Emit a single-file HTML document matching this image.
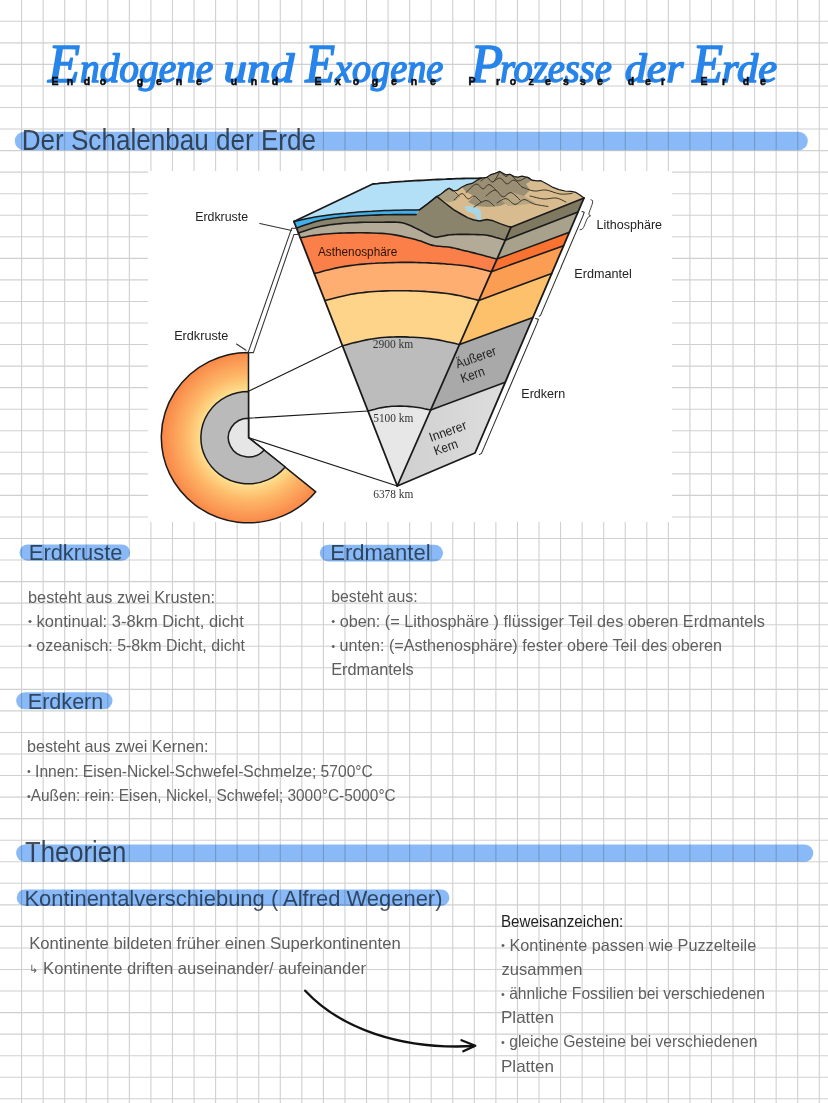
<!DOCTYPE html>
<html lang="de"><head><meta charset="utf-8"><title>Endogene und Exogene Prozesse der Erde</title>
<style>
html,body{margin:0;padding:0;background:#fff;}
body{width:828px;height:1103px;overflow:hidden;position:relative;font-family:"Liberation Sans",sans-serif;}
svg{position:absolute;left:0;top:0;display:block;}
text{font-family:"Liberation Sans",sans-serif;}
.grid line{stroke:#d0d0d0;stroke-width:1.1;}
.bar{fill:#89baf7;mix-blend-mode:multiply;}
.h1{font-size:29px;fill:#16202b;fill-opacity:.78;}
.h2{font-size:22.4px;fill:#16283a;fill-opacity:.8;}
.b{font-size:16.5px;fill:#5e5e5e;}
.b .bl,.bb .bl{font-size:11.5px;}
.bb{font-size:16.5px;fill:#1e1e1e;}
.lab{font-size:13.4px;fill:#222;}
.km{font-family:"Liberation Serif",serif;font-size:12px;fill:#333;}
.title{font-family:"Liberation Serif",serif;font-style:italic;font-weight:normal;fill:#2784ea;stroke:#2784ea;stroke-width:1.5;stroke-linejoin:round;}
.sub{font-family:"Liberation Sans",sans-serif;font-weight:bold;font-size:10.5px;fill:#0a0a0a;stroke:#0a0a0a;stroke-width:0.5;}
</style></head><body>
<svg width="828" height="1103" viewBox="0 0 828 1103">
<g class="grid">
<line x1="21.56" y1="0" x2="21.56" y2="1103"/>
<line x1="43.12" y1="0" x2="43.12" y2="1103"/>
<line x1="64.68" y1="0" x2="64.68" y2="1103"/>
<line x1="86.24" y1="0" x2="86.24" y2="1103"/>
<line x1="107.80" y1="0" x2="107.80" y2="1103"/>
<line x1="129.36" y1="0" x2="129.36" y2="1103"/>
<line x1="150.92" y1="0" x2="150.92" y2="1103"/>
<line x1="172.48" y1="0" x2="172.48" y2="1103"/>
<line x1="194.04" y1="0" x2="194.04" y2="1103"/>
<line x1="215.60" y1="0" x2="215.60" y2="1103"/>
<line x1="237.16" y1="0" x2="237.16" y2="1103"/>
<line x1="258.72" y1="0" x2="258.72" y2="1103"/>
<line x1="280.28" y1="0" x2="280.28" y2="1103"/>
<line x1="301.84" y1="0" x2="301.84" y2="1103"/>
<line x1="323.40" y1="0" x2="323.40" y2="1103"/>
<line x1="344.96" y1="0" x2="344.96" y2="1103"/>
<line x1="366.52" y1="0" x2="366.52" y2="1103"/>
<line x1="388.08" y1="0" x2="388.08" y2="1103"/>
<line x1="409.64" y1="0" x2="409.64" y2="1103"/>
<line x1="431.20" y1="0" x2="431.20" y2="1103"/>
<line x1="452.76" y1="0" x2="452.76" y2="1103"/>
<line x1="474.32" y1="0" x2="474.32" y2="1103"/>
<line x1="495.88" y1="0" x2="495.88" y2="1103"/>
<line x1="517.44" y1="0" x2="517.44" y2="1103"/>
<line x1="539.00" y1="0" x2="539.00" y2="1103"/>
<line x1="560.56" y1="0" x2="560.56" y2="1103"/>
<line x1="582.12" y1="0" x2="582.12" y2="1103"/>
<line x1="603.68" y1="0" x2="603.68" y2="1103"/>
<line x1="625.24" y1="0" x2="625.24" y2="1103"/>
<line x1="646.80" y1="0" x2="646.80" y2="1103"/>
<line x1="668.36" y1="0" x2="668.36" y2="1103"/>
<line x1="689.92" y1="0" x2="689.92" y2="1103"/>
<line x1="711.48" y1="0" x2="711.48" y2="1103"/>
<line x1="733.04" y1="0" x2="733.04" y2="1103"/>
<line x1="754.60" y1="0" x2="754.60" y2="1103"/>
<line x1="776.16" y1="0" x2="776.16" y2="1103"/>
<line x1="797.72" y1="0" x2="797.72" y2="1103"/>
<line x1="819.28" y1="0" x2="819.28" y2="1103"/>
<line x1="0" y1="21.30" x2="828" y2="21.30"/>
<line x1="0" y1="42.85" x2="828" y2="42.85"/>
<line x1="0" y1="64.40" x2="828" y2="64.40"/>
<line x1="0" y1="85.95" x2="828" y2="85.95"/>
<line x1="0" y1="107.50" x2="828" y2="107.50"/>
<line x1="0" y1="129.05" x2="828" y2="129.05"/>
<line x1="0" y1="150.60" x2="828" y2="150.60"/>
<line x1="0" y1="172.15" x2="828" y2="172.15"/>
<line x1="0" y1="193.70" x2="828" y2="193.70"/>
<line x1="0" y1="215.25" x2="828" y2="215.25"/>
<line x1="0" y1="236.80" x2="828" y2="236.80"/>
<line x1="0" y1="258.35" x2="828" y2="258.35"/>
<line x1="0" y1="279.90" x2="828" y2="279.90"/>
<line x1="0" y1="301.45" x2="828" y2="301.45"/>
<line x1="0" y1="323.00" x2="828" y2="323.00"/>
<line x1="0" y1="344.55" x2="828" y2="344.55"/>
<line x1="0" y1="366.10" x2="828" y2="366.10"/>
<line x1="0" y1="387.65" x2="828" y2="387.65"/>
<line x1="0" y1="409.20" x2="828" y2="409.20"/>
<line x1="0" y1="430.75" x2="828" y2="430.75"/>
<line x1="0" y1="452.30" x2="828" y2="452.30"/>
<line x1="0" y1="473.85" x2="828" y2="473.85"/>
<line x1="0" y1="495.40" x2="828" y2="495.40"/>
<line x1="0" y1="516.95" x2="828" y2="516.95"/>
<line x1="0" y1="538.50" x2="828" y2="538.50"/>
<line x1="0" y1="560.05" x2="828" y2="560.05"/>
<line x1="0" y1="581.60" x2="828" y2="581.60"/>
<line x1="0" y1="603.15" x2="828" y2="603.15"/>
<line x1="0" y1="624.70" x2="828" y2="624.70"/>
<line x1="0" y1="646.25" x2="828" y2="646.25"/>
<line x1="0" y1="667.80" x2="828" y2="667.80"/>
<line x1="0" y1="689.35" x2="828" y2="689.35"/>
<line x1="0" y1="710.90" x2="828" y2="710.90"/>
<line x1="0" y1="732.45" x2="828" y2="732.45"/>
<line x1="0" y1="754.00" x2="828" y2="754.00"/>
<line x1="0" y1="775.55" x2="828" y2="775.55"/>
<line x1="0" y1="797.10" x2="828" y2="797.10"/>
<line x1="0" y1="818.65" x2="828" y2="818.65"/>
<line x1="0" y1="840.20" x2="828" y2="840.20"/>
<line x1="0" y1="861.75" x2="828" y2="861.75"/>
<line x1="0" y1="883.30" x2="828" y2="883.30"/>
<line x1="0" y1="904.85" x2="828" y2="904.85"/>
<line x1="0" y1="926.40" x2="828" y2="926.40"/>
<line x1="0" y1="947.95" x2="828" y2="947.95"/>
<line x1="0" y1="969.50" x2="828" y2="969.50"/>
<line x1="0" y1="991.05" x2="828" y2="991.05"/>
<line x1="0" y1="1012.60" x2="828" y2="1012.60"/>
<line x1="0" y1="1034.15" x2="828" y2="1034.15"/>
<line x1="0" y1="1055.70" x2="828" y2="1055.70"/>
<line x1="0" y1="1077.25" x2="828" y2="1077.25"/>
<line x1="0" y1="1098.80" x2="828" y2="1098.80"/>
</g>
<rect class="bar" x="14.8" y="131.7" width="793.0" height="18.6" rx="9.30"/>
<rect class="bar" x="19.5" y="544.5" width="110.5" height="16.2" rx="8.10"/>
<rect class="bar" x="319.8" y="544.7" width="123.2" height="16.8" rx="8.40"/>
<rect class="bar" x="16.2" y="692.2" width="96.3" height="17.1" rx="8.55"/>
<rect class="bar" x="16.1" y="844.4" width="797.2" height="17.3" rx="8.65"/>
<rect class="bar" x="16.7" y="889.4" width="432.7" height="16.6" rx="8.30"/>
<text class="h1" x="21.7" y="149.6" textLength="294.3" lengthAdjust="spacingAndGlyphs">Der Schalenbau der Erde</text>
<text class="h2" x="28.8" y="559.6" textLength="93.7" lengthAdjust="spacingAndGlyphs">Erdkruste</text>
<text class="h2" x="330.2" y="560.0" textLength="100.4" lengthAdjust="spacingAndGlyphs">Erdmantel</text>
<text class="h2" x="27.8" y="708.6" textLength="75.5" lengthAdjust="spacingAndGlyphs">Erdkern</text>
<text class="h1" x="25" y="861.5" textLength="101.4" lengthAdjust="spacingAndGlyphs">Theorien</text>
<text class="h2" x="24.4" y="905.8" textLength="418.1" lengthAdjust="spacingAndGlyphs">Kontinentalverschiebung ( Alfred Wegener)</text>
<text class="b" x="28" y="602.5" textLength="187.0" lengthAdjust="spacingAndGlyphs">besteht aus zwei Krusten:</text>
<text class="b" x="28" y="626.5" textLength="215.8" lengthAdjust="spacingAndGlyphs"><tspan class="bl" dy="-1.2">•</tspan><tspan dy="1.2"> kontinual: 3-8km Dicht, dicht</tspan></text>
<text class="b" x="28" y="650.5" textLength="217.0" lengthAdjust="spacingAndGlyphs"><tspan class="bl" dy="-1.2">•</tspan><tspan dy="1.2"> ozeanisch: 5-8km Dicht, dicht</tspan></text>
<text class="b" x="331.2" y="602.4" textLength="86.4" lengthAdjust="spacingAndGlyphs">besteht aus:</text>
<text class="b" x="331.2" y="626.6" textLength="433.8" lengthAdjust="spacingAndGlyphs"><tspan class="bl" dy="-1.2">•</tspan><tspan dy="1.2"> oben: (= Lithosphäre ) flüssiger Teil des oberen Erdmantels</tspan></text>
<text class="b" x="331.2" y="650.7" textLength="390.8" lengthAdjust="spacingAndGlyphs"><tspan class="bl" dy="-1.2">•</tspan><tspan dy="1.2"> unten: (=Asthenosphäre) fester obere Teil des oberen</tspan></text>
<text class="b" x="331.2" y="675.0" textLength="82.5" lengthAdjust="spacingAndGlyphs">Erdmantels</text>
<text class="b" x="26.9" y="752.2" textLength="181.6" lengthAdjust="spacingAndGlyphs">besteht aus zwei Kernen:</text>
<text class="b" x="26.9" y="776.5" textLength="346.0" lengthAdjust="spacingAndGlyphs"><tspan class="bl" dy="-1.2">•</tspan><tspan dy="1.2"> Innen: Eisen-Nickel-Schwefel-Schmelze; 5700°C</tspan></text>
<text class="b" x="26.9" y="801.0" textLength="368.8" lengthAdjust="spacingAndGlyphs"><tspan class="bl" dy="-1.2">•</tspan><tspan dy="1.2">Außen: rein: Eisen, Nickel, Schwefel; 3000°C-5000°C</tspan></text>
<text class="b" x="29.2" y="949.0" textLength="371.6" lengthAdjust="spacingAndGlyphs">Kontinente bildeten früher einen Superkontinenten</text>
<text class="b" x="29.2" y="973.5" textLength="336.8" lengthAdjust="spacingAndGlyphs"><tspan style="font-size:11px;font-family:'DejaVu Sans',sans-serif" dy="-1">↳</tspan><tspan dy="1"> Kontinente driften auseinander/ aufeinander</tspan></text>
<text class="bb" x="501" y="927.0" textLength="122.3" lengthAdjust="spacingAndGlyphs">Beweisanzeichen:</text>
<text class="b" x="501" y="950.6" textLength="255.2" lengthAdjust="spacingAndGlyphs"><tspan class="bl" dy="-1.2">•</tspan><tspan dy="1.2"> Kontinente passen wie Puzzelteile</tspan></text>
<text class="b" x="501.6" y="974.6" textLength="80.9" lengthAdjust="spacingAndGlyphs">zusammen</text>
<text class="b" x="501" y="998.8" textLength="264.0" lengthAdjust="spacingAndGlyphs"><tspan class="bl" dy="-1.2">•</tspan><tspan dy="1.2"> ähnliche Fossilien bei verschiedenen</tspan></text>
<text class="b" x="501" y="1023.0" textLength="53.0" lengthAdjust="spacingAndGlyphs">Platten</text>
<text class="b" x="501" y="1047.3" textLength="256.4" lengthAdjust="spacingAndGlyphs"><tspan class="bl" dy="-1.2">•</tspan><tspan dy="1.2"> gleiche Gesteine bei verschiedenen</tspan></text>
<text class="b" x="501" y="1071.6" textLength="53.0" lengthAdjust="spacingAndGlyphs">Platten</text>
<path d="M305.2 990.7 C340 1028 400 1050 474 1046" fill="none" stroke="#111" stroke-width="2.3" stroke-linecap="round"/>
<path d="M461.5 1040.2 L475.3 1045.8 L463.3 1051.2" fill="none" stroke="#111" stroke-width="2.3" stroke-linecap="round" stroke-linejoin="round"/>
<g id="title">
<text class="title" font-size="55" x="48" y="82" textLength="32.0" lengthAdjust="spacingAndGlyphs">E</text>
<text class="title" font-size="40" x="80" y="82" textLength="133.3" lengthAdjust="spacingAndGlyphs">ndogene</text>
<text class="title" font-size="40" x="223.5" y="82" textLength="70.7" lengthAdjust="spacingAndGlyphs">und</text>
<text class="title" font-size="55" x="305.2" y="82" textLength="29.8" lengthAdjust="spacingAndGlyphs">E</text>
<text class="title" font-size="40" x="335" y="82" textLength="108.3" lengthAdjust="spacingAndGlyphs">xogene</text>
<text class="title" font-size="55" x="470.4" y="82" textLength="32.6" lengthAdjust="spacingAndGlyphs">P</text>
<text class="title" font-size="40" x="500" y="82" textLength="111.7" lengthAdjust="spacingAndGlyphs">rozesse</text>
<text class="title" font-size="40" x="624.8" y="82" textLength="58.7" lengthAdjust="spacingAndGlyphs">der</text>
<text class="title" font-size="55" x="692.2" y="82" textLength="30.8" lengthAdjust="spacingAndGlyphs">E</text>
<text class="title" font-size="40" x="722" y="82" textLength="55.0" lengthAdjust="spacingAndGlyphs">rde</text>
<text class="sub" x="55.0 70.0 87.0 103.0 140.0 159.0 179.0 199.0" y="85" text-anchor="middle">Endogene</text>
<text class="sub" x="234.0 254.0 275.0" y="85" text-anchor="middle">und</text>
<text class="sub" x="318.0 338.0 356.0 375.0 394.0 414.0 433.0" y="85" text-anchor="middle">Exogene</text>
<text class="sub" x="472.0 498.0 513.0 531.0 548.0 566.0 583.0 600.0" y="85" text-anchor="middle">Prozesse</text>
<text class="sub" x="631.0 648.0 663.0" y="85" text-anchor="middle">der</text>
<text class="sub" x="704.0 724.0 746.0 763.0" y="85" text-anchor="middle">Erde</text>
</g>
<g id="diagram">
<defs>
<radialGradient id="mantle" gradientUnits="userSpaceOnUse" cx="248.5" cy="437.6" r="86.5"><stop offset="0.54" stop-color="#fee08f"/><stop offset="0.72" stop-color="#fdb868"/><stop offset="1" stop-color="#f98647"/></radialGradient>
<linearGradient id="icore" x1="0" y1="0" x2="1" y2="0"><stop offset="0" stop-color="#cfcfcf"/><stop offset="1" stop-color="#dedede"/></linearGradient>
</defs>
<rect x="148" y="171" width="524" height="351" fill="#fff"/>
<polygon points="368.0,411.0 369.2,410.7 370.9,410.3 372.8,409.7 375.0,409.2 377.3,408.6 379.6,408.0 381.9,407.6 384.0,407.2 386.0,406.9 388.0,406.7 390.0,406.5 391.9,406.3 393.9,406.2 395.9,406.2 397.9,406.1 399.9,406.1 401.9,406.1 403.9,406.2 406.0,406.3 408.0,406.4 410.1,406.6 412.1,406.8 414.1,407.0 416.0,407.2 418.0,407.5 420.1,407.8 422.3,408.2 424.4,408.7 426.3,409.1 428.1,409.5 429.6,409.8 430.7,410.0 397.3,486.0 397.3,486.0 397.3,486.0" fill="#e7e7e7" stroke="none" stroke-width="0" stroke-linejoin="round"/>
<polygon points="368.0,411.0 369.2,410.7 370.9,410.3 372.8,409.7 375.0,409.2 377.3,408.6 379.6,408.0 381.9,407.6 384.0,407.2 386.0,406.9 388.0,406.7 390.0,406.5 391.9,406.3 393.9,406.2 395.9,406.2 397.9,406.1 399.9,406.1 401.9,406.1 403.9,406.2 406.0,406.3 408.0,406.4 410.1,406.6 412.1,406.8 414.1,407.0 416.0,407.2 418.0,407.5 420.1,407.8 422.3,408.2 424.4,408.7 426.3,409.1 428.1,409.5 429.6,409.8 430.7,410.0 397.3,486.0" fill="#e7e7e7" stroke="none" stroke-width="0" stroke-linejoin="round"/>
<polygon points="342.5,345.8 344.6,345.3 347.5,344.5 350.8,343.6 354.6,342.6 358.5,341.7 362.5,340.7 366.4,339.9 370.0,339.2 373.3,338.7 376.6,338.2 379.8,337.8 383.0,337.5 386.3,337.3 389.7,337.1 393.1,337.0 396.8,336.9 400.7,336.9 404.7,336.9 408.9,337.1 413.2,337.2 417.5,337.5 421.8,337.8 426.0,338.2 430.0,338.6 434.1,339.2 438.3,339.9 442.6,340.8 446.8,341.7 450.7,342.5 454.3,343.3 457.2,344.0 459.5,344.5 430.7,410.0 429.6,409.8 428.1,409.5 426.3,409.1 424.4,408.7 422.3,408.2 420.1,407.8 418.0,407.5 416.0,407.2 414.1,407.0 412.1,406.8 410.1,406.6 408.0,406.4 406.0,406.3 403.9,406.2 401.9,406.1 399.9,406.1 397.9,406.1 395.9,406.2 393.9,406.2 391.9,406.3 390.0,406.5 388.0,406.7 386.0,406.9 384.0,407.2 381.9,407.6 379.6,408.0 377.3,408.6 375.0,409.2 372.8,409.7 370.9,410.3 369.2,410.7 368.0,411.0" fill="#bcbcbc" stroke="none" stroke-width="0" stroke-linejoin="round"/>
<polygon points="324.8,300.6 327.1,300.0 330.2,299.2 333.9,298.3 337.9,297.3 342.3,296.2 346.6,295.2 351.0,294.3 355.0,293.6 358.9,293.0 362.8,292.6 366.7,292.1 370.6,291.8 374.6,291.5 378.5,291.3 382.6,291.1 386.6,290.9 390.7,290.8 394.8,290.7 399.0,290.7 403.2,290.7 407.5,290.7 411.7,290.9 415.9,291.0 420.0,291.2 424.2,291.4 428.4,291.7 432.6,292.1 436.7,292.4 440.9,292.9 444.9,293.3 448.8,293.8 452.6,294.4 456.4,295.1 460.2,295.8 464.1,296.7 467.8,297.6 471.2,298.5 474.3,299.3 476.9,299.9 478.8,300.4 459.5,344.5 457.2,344.0 454.3,343.3 450.7,342.5 446.8,341.7 442.6,340.8 438.3,339.9 434.1,339.2 430.0,338.6 426.0,338.2 421.8,337.8 417.5,337.5 413.2,337.2 408.9,337.1 404.7,336.9 400.7,336.9 396.8,336.9 393.1,337.0 389.7,337.1 386.3,337.3 383.0,337.5 379.8,337.8 376.6,338.2 373.3,338.7 370.0,339.2 366.4,339.9 362.5,340.7 358.5,341.7 354.6,342.6 350.8,343.6 347.5,344.5 344.6,345.3 342.5,345.8" fill="#fed48b" stroke="none" stroke-width="0" stroke-linejoin="round"/>
<polygon points="314.3,273.6 316.2,273.1 318.9,272.4 322.0,271.5 325.4,270.6 329.1,269.7 332.9,268.7 336.5,267.9 340.0,267.2 343.3,266.6 346.6,266.1 349.9,265.6 353.2,265.2 356.6,264.8 360.1,264.4 363.6,264.1 367.3,263.8 371.2,263.5 375.3,263.3 379.5,263.0 383.8,262.9 388.0,262.7 392.2,262.6 396.2,262.5 400.0,262.4 403.5,262.4 406.9,262.3 410.1,262.4 413.2,262.4 416.2,262.5 419.2,262.6 422.2,262.7 425.3,262.8 428.4,262.9 431.6,263.1 434.8,263.2 438.0,263.4 441.1,263.6 444.2,263.8 447.1,264.1 450.0,264.3 452.7,264.5 455.3,264.8 457.8,265.0 460.2,265.2 462.6,265.5 465.0,265.8 467.5,266.2 470.0,266.6 472.8,267.1 475.8,267.8 478.9,268.5 482.0,269.3 484.9,270.0 487.6,270.7 489.8,271.3 491.4,271.7 478.8,300.4 476.9,299.9 474.3,299.3 471.2,298.5 467.8,297.6 464.1,296.7 460.2,295.8 456.4,295.1 452.6,294.4 448.8,293.8 444.9,293.3 440.9,292.9 436.7,292.4 432.6,292.1 428.4,291.7 424.2,291.4 420.0,291.2 415.9,291.0 411.7,290.9 407.5,290.7 403.2,290.7 399.0,290.7 394.8,290.7 390.7,290.8 386.6,290.9 382.6,291.1 378.5,291.3 374.6,291.5 370.6,291.8 366.7,292.1 362.8,292.6 358.9,293.0 355.0,293.6 351.0,294.3 346.6,295.2 342.3,296.2 337.9,297.3 333.9,298.3 330.2,299.2 327.1,300.0 324.8,300.6" fill="#fdae70" stroke="none" stroke-width="0" stroke-linejoin="round"/>
<polygon points="300.3,237.8 301.7,237.5 303.6,237.2 305.9,236.8 308.4,236.3 311.1,235.8 314.0,235.4 317.0,235.0 320.0,234.6 323.0,234.3 326.2,234.0 329.4,233.7 332.8,233.5 336.4,233.3 340.1,233.1 343.9,233.0 348.0,232.9 352.4,232.9 357.1,232.8 362.1,232.8 367.2,232.9 372.4,233.0 377.4,233.2 382.2,233.4 386.6,233.8 390.8,234.3 394.8,234.9 398.7,235.6 402.4,236.4 406.0,237.2 409.4,238.0 412.6,238.8 415.6,239.6 418.3,240.4 420.8,241.1 423.0,241.9 425.1,242.7 427.0,243.5 429.0,244.2 430.9,244.9 433.0,245.4 435.2,245.8 437.4,246.1 439.6,246.3 441.7,246.5 443.9,246.7 446.0,246.8 448.0,247.0 450.0,247.3 451.8,247.6 453.6,248.0 455.2,248.3 456.8,248.7 458.4,249.1 460.0,249.5 461.7,250.0 463.5,250.4 465.4,250.9 467.4,251.3 469.4,251.8 471.5,252.4 473.6,252.9 475.8,253.4 477.9,254.0 480.0,254.5 482.2,255.1 484.6,255.7 487.1,256.4 489.5,257.1 491.8,257.7 493.9,258.3 495.7,258.7 497.0,259.1 491.4,271.7 489.8,271.3 487.6,270.7 484.9,270.0 482.0,269.3 478.9,268.5 475.8,267.8 472.8,267.1 470.0,266.6 467.5,266.2 465.0,265.8 462.6,265.5 460.2,265.2 457.8,265.0 455.3,264.8 452.7,264.5 450.0,264.3 447.1,264.1 444.2,263.8 441.1,263.6 438.0,263.4 434.8,263.2 431.6,263.1 428.4,262.9 425.3,262.8 422.2,262.7 419.2,262.6 416.2,262.5 413.2,262.4 410.1,262.4 406.9,262.3 403.5,262.4 400.0,262.4 396.2,262.5 392.2,262.6 388.0,262.7 383.8,262.9 379.5,263.0 375.3,263.3 371.2,263.5 367.3,263.8 363.6,264.1 360.1,264.4 356.6,264.8 353.2,265.2 349.9,265.6 346.6,266.1 343.3,266.6 340.0,267.2 336.5,267.9 332.9,268.7 329.1,269.7 325.4,270.6 322.0,271.5 318.9,272.4 316.2,273.1 314.3,273.6" fill="#fb7f49" stroke="none" stroke-width="0" stroke-linejoin="round"/>
<polygon points="298.4,233.0 300.0,232.5 302.1,231.8 304.6,230.9 307.4,230.0 310.5,229.0 313.6,228.1 316.8,227.2 320.0,226.5 323.2,225.9 326.5,225.4 329.9,224.8 333.4,224.4 336.9,224.0 340.6,223.6 344.3,223.3 348.0,223.0 351.9,222.8 356.0,222.6 360.1,222.4 364.4,222.3 368.6,222.3 372.6,222.2 376.5,222.2 380.0,222.2 383.3,222.2 386.4,222.1 389.3,222.1 392.0,222.1 394.7,222.1 397.2,222.2 399.6,222.4 402.0,222.8 404.2,223.3 406.3,223.9 408.3,224.7 410.2,225.5 412.0,226.3 413.8,227.2 415.6,228.1 417.5,229.0 419.5,229.9 421.6,231.0 423.6,232.1 425.7,233.2 427.7,234.3 429.7,235.2 431.4,236.0 433.0,236.6 434.4,237.0 435.5,237.1 436.5,237.2 437.4,237.1 438.3,236.9 439.1,236.7 440.0,236.5 441.0,236.4 442.0,236.3 443.1,236.1 444.1,235.8 445.2,235.6 446.3,235.4 447.4,235.1 448.7,235.0 450.0,234.8 451.4,234.7 452.9,234.6 454.4,234.5 456.0,234.5 457.6,234.4 459.4,234.4 461.4,234.4 463.5,234.4 465.9,234.4 468.6,234.4 471.5,234.5 474.5,234.5 477.4,234.6 480.3,234.7 482.9,234.8 485.2,235.0 487.2,235.2 488.9,235.6 490.5,235.9 491.9,236.3 493.3,236.7 494.5,237.1 495.8,237.5 497.0,237.8 498.3,238.1 499.5,238.5 500.7,238.8 501.9,239.2 502.9,239.5 503.9,239.8 504.7,240.0 505.3,240.2 497.0,259.1 495.7,258.7 493.9,258.3 491.8,257.7 489.5,257.1 487.1,256.4 484.6,255.7 482.2,255.1 480.0,254.5 477.9,254.0 475.8,253.4 473.6,252.9 471.5,252.4 469.4,251.8 467.4,251.3 465.4,250.9 463.5,250.4 461.7,250.0 460.0,249.5 458.4,249.1 456.8,248.7 455.2,248.3 453.6,248.0 451.8,247.6 450.0,247.3 448.0,247.0 446.0,246.8 443.9,246.7 441.7,246.5 439.6,246.3 437.4,246.1 435.2,245.8 433.0,245.4 430.9,244.9 429.0,244.2 427.0,243.5 425.1,242.7 423.0,241.9 420.8,241.1 418.3,240.4 415.6,239.6 412.6,238.8 409.4,238.0 406.0,237.2 402.4,236.4 398.7,235.6 394.8,234.9 390.8,234.3 386.6,233.8 382.2,233.4 377.4,233.2 372.4,233.0 367.2,232.9 362.1,232.8 357.1,232.8 352.4,232.9 348.0,232.9 343.9,233.0 340.1,233.1 336.4,233.3 332.8,233.5 329.4,233.7 326.2,234.0 323.0,234.3 320.0,234.6 317.0,235.0 314.0,235.4 311.1,235.8 308.4,236.3 305.9,236.8 303.6,237.2 301.7,237.5 300.3,237.8" fill="#b3ab97" stroke="none" stroke-width="0" stroke-linejoin="round"/>
<polygon points="296.4,228.0 298.2,227.4 300.6,226.6 303.4,225.6 306.5,224.5 309.8,223.4 313.2,222.3 316.7,221.3 320.0,220.5 323.2,219.8 326.5,219.2 329.8,218.7 333.2,218.2 336.6,217.8 340.3,217.3 344.0,217.0 348.0,216.6 352.2,216.3 356.8,216.0 361.5,215.7 366.3,215.5 371.2,215.3 375.9,215.1 380.6,214.9 385.0,214.8 389.4,214.7 393.9,214.6 398.5,214.6 402.9,214.6 407.0,214.6 410.7,214.6 413.8,214.6 416.2,214.6 419.5,209.8 428.0,203.5 436.8,196.4 445.0,203.0 453.5,209.6 461.0,214.0 468.0,217.9 474.0,220.0 479.6,220.9 486.8,219.5 492.0,220.4 500.0,223.6 508.7,226.6 511.0,227.2 505.3,240.2 504.7,240.0 503.9,239.8 502.9,239.5 501.9,239.2 500.7,238.8 499.5,238.5 498.3,238.1 497.0,237.8 495.8,237.5 494.5,237.1 493.3,236.7 491.9,236.3 490.5,235.9 488.9,235.6 487.2,235.2 485.2,235.0 482.9,234.8 480.3,234.7 477.4,234.6 474.5,234.5 471.5,234.5 468.6,234.4 465.9,234.4 463.5,234.4 461.4,234.4 459.4,234.4 457.6,234.4 456.0,234.5 454.4,234.5 452.9,234.6 451.4,234.7 450.0,234.8 448.7,235.0 447.4,235.1 446.3,235.4 445.2,235.6 444.1,235.8 443.1,236.1 442.0,236.3 441.0,236.4 440.0,236.5 439.1,236.7 438.3,236.9 437.4,237.1 436.5,237.2 435.5,237.1 434.4,237.0 433.0,236.6 431.4,236.0 429.7,235.2 427.7,234.3 425.7,233.2 423.6,232.1 421.6,231.0 419.5,229.9 417.5,229.0 415.6,228.1 413.8,227.2 412.0,226.3 410.2,225.5 408.3,224.7 406.3,223.9 404.2,223.3 402.0,222.8 399.6,222.4 397.2,222.2 394.7,222.1 392.0,222.1 389.3,222.1 386.4,222.1 383.3,222.2 380.0,222.2 376.5,222.2 372.6,222.2 368.6,222.3 364.4,222.3 360.1,222.4 356.0,222.6 351.9,222.8 348.0,223.0 344.3,223.3 340.6,223.6 336.9,224.0 333.4,224.4 329.9,224.8 326.5,225.4 323.2,225.9 320.0,226.5 316.8,227.2 313.6,228.1 310.5,229.0 307.4,230.0 304.6,230.9 302.1,231.8 300.0,232.5 298.4,233.0" fill="#8b846d" stroke="none" stroke-width="0" stroke-linejoin="round"/>
<polygon points="293.9,221.5 295.9,221.1 298.5,220.5 301.6,219.8 305.1,219.1 308.8,218.3 312.6,217.5 316.4,216.8 320.0,216.2 323.5,215.7 327.1,215.2 330.7,214.7 334.4,214.3 338.2,213.9 342.1,213.5 346.0,213.2 350.0,212.8 354.1,212.5 358.4,212.1 362.8,211.8 367.2,211.5 371.7,211.3 376.2,211.0 380.6,210.8 385.0,210.6 389.6,210.4 394.5,210.3 399.5,210.2 404.4,210.1 409.1,210.0 413.3,209.9 416.8,209.9 419.5,209.8 419.5,209.8 416.2,214.6 413.8,214.6 410.7,214.6 407.0,214.6 402.9,214.6 398.5,214.6 393.9,214.6 389.4,214.7 385.0,214.8 380.6,214.9 375.9,215.1 371.2,215.3 366.3,215.5 361.5,215.7 356.8,216.0 352.2,216.3 348.0,216.6 344.0,217.0 340.3,217.3 336.6,217.8 333.2,218.2 329.8,218.7 326.5,219.2 323.2,219.8 320.0,220.5 316.7,221.3 313.2,222.3 309.8,223.4 306.5,224.5 303.4,225.6 300.6,226.6 298.2,227.4 296.4,228.0" fill="#41afe9" stroke="none" stroke-width="0" stroke-linejoin="round"/>
<polygon points="511.0,227.2 584.0,198.0 578.0,212.0 505.3,240.2" fill="#7f7962" stroke="none" stroke-width="0" stroke-linejoin="round"/>
<polygon points="505.3,240.2 578.0,212.0 569.4,232.2 497.0,259.1" fill="#a8a18c" stroke="none" stroke-width="0" stroke-linejoin="round"/>
<polygon points="497.0,259.1 569.4,232.2 563.6,245.7 491.4,271.7" fill="#f9722f" stroke="none" stroke-width="0" stroke-linejoin="round"/>
<polygon points="491.4,271.7 563.6,245.7 551.7,273.5 478.8,300.4" fill="#fc9d54" stroke="none" stroke-width="0" stroke-linejoin="round"/>
<polygon points="478.8,300.4 551.7,273.5 533.0,317.4 459.5,344.5" fill="#fdc16c" stroke="none" stroke-width="0" stroke-linejoin="round"/>
<polygon points="459.5,344.5 533.0,317.4 505.3,382.2 430.7,410.0" fill="#a9a9a9" stroke="none" stroke-width="0" stroke-linejoin="round"/>
<polygon points="430.7,410.0 505.3,382.2 475.0,453.0 397.3,486.0" fill="url(#icore)" stroke="none" stroke-width="0" stroke-linejoin="round"/>
<polygon points="293.9,221.5 293.9,221.5 295.9,221.1 298.5,220.5 301.6,219.8 305.1,219.1 308.8,218.3 312.6,217.5 316.4,216.8 320.0,216.2 323.5,215.7 327.1,215.2 330.7,214.7 334.4,214.3 338.2,213.9 342.1,213.5 346.0,213.2 350.0,212.8 354.1,212.5 358.4,212.1 362.8,211.8 367.2,211.5 371.7,211.3 376.2,211.0 380.6,210.8 385.0,210.6 389.6,210.4 394.5,210.3 399.5,210.2 404.4,210.1 409.1,210.0 413.3,209.9 416.8,209.9 419.5,209.8 419.5,209.8 428.0,203.5 436.8,196.4 441.0,194.0 445.0,191.0 449.1,188.2 453.0,191.0 457.0,190.4 462.0,187.0 467.0,184.6 472.0,183.4 477.0,180.2 481.0,178.2 481.0,178.2 479.4,178.2 477.4,178.3 475.1,178.3 472.4,178.3 469.5,178.4 466.4,178.4 463.2,178.5 460.0,178.6 456.7,178.7 453.1,178.9 449.4,179.0 445.6,179.2 441.6,179.3 437.7,179.5 433.8,179.7 430.0,179.9 426.2,180.1 422.4,180.3 418.6,180.5 414.8,180.7 411.1,180.9 407.3,181.1 403.6,181.4 400.0,181.6 396.3,181.9 392.3,182.2 388.4,182.6 384.5,182.9 380.8,183.2 377.5,183.6 374.8,183.8 372.7,184.0" fill="#b3e0f6" stroke="none" stroke-width="0" stroke-linejoin="round"/>
<polygon points="419.5,209.8 428.0,203.5 436.8,196.4 441.0,194.0 445.0,191.0 449.1,188.2 453.0,191.0 457.0,190.4 462.0,187.0 467.0,184.6 472.0,183.4 477.0,180.2 481.0,178.2 486.8,177.3 491.0,174.6 495.0,173.4 499.9,171.4 503.5,173.6 506.0,174.8 510.0,174.3 514.0,176.6 518.0,177.2 522.0,176.2 527.4,177.3 532.0,180.2 537.0,180.9 541.0,180.7 548.0,184.6 553.0,187.4 559.0,189.6 565.0,191.0 571.0,191.3 576.0,192.4 580.0,195.0 584.0,198.0 511.0,227.2 508.7,226.6 500.0,223.6 492.0,220.4 486.8,219.5 479.6,220.9 474.0,220.0 468.0,217.9 461.0,214.0 453.5,209.6 445.0,203.0 436.8,196.4 428.0,203.5 419.5,209.8" fill="#d8bc8f" stroke="none" stroke-width="0" stroke-linejoin="round"/>
<polygon points="438.5,196.4 449.1,188.2 459.3,196.2 456.0,200.5 448.0,202.5 443.0,200.0" fill="#ab9f82" stroke="none" stroke-width="0" stroke-linejoin="round"/>
<polygon points="462.0,187.0 472.0,183.4 481.0,178.2 486.8,177.3 491.0,174.6 499.9,171.4 506.0,174.8 510.0,174.3 518.0,177.2 527.4,177.3 532.0,180.2 526.0,184.0 530.0,190.0 524.0,196.0 512.0,201.0 500.0,206.0 488.0,207.0 476.0,206.0 468.0,202.0 474.0,196.0 466.0,192.0" fill="#9a8f75" stroke="none" stroke-width="0" stroke-linejoin="round"/>
<polygon points="500.0,199.0 512.0,192.0 524.0,196.0 536.0,203.0 520.0,205.0 508.0,206.0" fill="#b9a682" stroke="none" stroke-width="0" stroke-linejoin="round"/>
<polygon points="464.5,206.5 470.0,206.0 478.0,208.0 481.0,211.0 481.0,220.0 477.0,220.5 475.0,214.5 466.5,211.0" fill="#a9d6e4" stroke="none" stroke-width="0" stroke-linejoin="round"/>
<polyline points="439.0,196.2 440.8,194.4 443.4,191.7 446.3,189.3 449.1,188.2 451.9,189.3 454.8,191.7 457.5,194.4 459.3,196.2" fill="none" stroke="#3e3828" stroke-width="1.0" stroke-linejoin="round" stroke-linecap="round"/>
<polyline points="454.0,200.0 455.5,198.6 457.6,196.4 460.0,194.4 462.0,193.5 463.6,194.2 465.1,196.0 466.5,197.9 468.0,199.0 469.5,198.6 470.9,197.5 472.4,196.3 474.0,196.0 475.8,197.0 477.9,198.8 479.7,200.7 481.0,202.0" fill="none" stroke="#3e3828" stroke-width="1.0" stroke-linejoin="round" stroke-linecap="round"/>
<polyline points="466.0,192.5 467.9,190.7 470.6,187.9 473.5,185.4 476.0,184.0 478.0,184.5 479.8,186.2 481.4,188.1 483.0,189.0 484.5,188.3 485.9,186.7 487.4,185.1 489.0,184.5 491.0,185.5 493.4,187.5 495.5,189.6 497.0,191.0" fill="none" stroke="#3e3828" stroke-width="1.0" stroke-linejoin="round" stroke-linecap="round"/>
<polyline points="481.0,181.0 482.0,180.1 483.5,178.9 485.2,177.7 486.8,177.3 488.3,178.2 489.8,180.1 491.4,181.7 493.0,182.0 494.8,180.2 496.8,177.0 498.6,173.7 499.9,171.4" fill="none" stroke="#3e3828" stroke-width="1.0" stroke-linejoin="round" stroke-linecap="round"/>
<polyline points="493.0,182.0 494.3,181.0 496.1,179.6 498.1,178.4 500.0,178.0 501.8,179.0 503.5,181.0 505.2,183.0 507.0,184.0 508.7,183.4 510.4,181.9 512.2,180.5 514.0,180.0 516.1,181.1 518.4,183.2 520.5,185.5 522.0,187.0" fill="none" stroke="#3e3828" stroke-width="1.0" stroke-linejoin="round" stroke-linecap="round"/>
<polyline points="499.9,171.4 501.0,172.5 502.7,174.1 504.5,175.6 506.0,176.5 507.1,176.3 507.9,175.3 508.8,174.4 510.0,174.3 511.7,175.6 513.7,177.7 515.8,179.8 518.0,181.0 520.3,180.6 522.8,179.3 525.3,177.9 527.4,177.3 529.2,177.8 530.8,178.9 532.1,180.2 533.0,181.0" fill="none" stroke="#3e3828" stroke-width="1.0" stroke-linejoin="round" stroke-linecap="round"/>
<polyline points="486.0,196.0 487.6,194.6 490.0,192.6 492.6,190.7 495.0,190.0 497.1,191.1 499.1,193.4 501.0,195.8 503.0,197.0 505.0,196.4 506.9,194.7 508.9,193.1 511.0,192.5 513.4,193.7 516.0,196.0 518.4,198.4 520.0,200.0" fill="none" stroke="#3e3828" stroke-width="1.0" stroke-linejoin="round" stroke-linecap="round"/>
<polyline points="474.0,207.0 476.2,205.6 479.5,203.4 483.0,201.4 486.0,200.5 488.5,201.2 490.8,202.8 492.7,204.7 494.0,206.0" fill="none" stroke="#3e3828" stroke-width="1.0" stroke-linejoin="round" stroke-linecap="round"/>
<polyline points="497.0,203.0 498.6,201.9 500.9,200.4 503.5,199.0 506.0,198.5 508.2,199.5 510.5,201.5 512.8,203.5 515.0,204.5 517.2,203.8 519.4,202.1 521.7,200.3 524.0,199.5 526.3,200.0 528.7,201.3 531.2,202.8 534.0,204.0 537.5,204.8 541.6,205.5 545.4,206.1 548.0,206.5" fill="none" stroke="#3e3828" stroke-width="1.0" stroke-linejoin="round" stroke-linecap="round"/>
<polyline points="522.0,187.0 524.2,187.8 527.2,189.1 530.7,190.3 534.0,191.0 537.0,191.0 539.9,190.5 542.9,190.0 546.0,190.0 549.4,190.8 553.0,192.0 556.6,193.2 560.0,194.0 563.4,194.2 566.9,194.0 569.9,193.7 572.0,193.5" fill="none" stroke="#3e3828" stroke-width="1.0" stroke-linejoin="round" stroke-linecap="round"/>
<polyline points="530.0,196.0 532.6,196.6 536.2,197.6 540.3,198.5 544.0,199.0 547.2,198.9 550.2,198.4 553.2,198.0 556.0,198.0 558.9,198.7 561.8,199.9 564.2,201.2 566.0,202.0" fill="none" stroke="#3e3828" stroke-width="1.0" stroke-linejoin="round" stroke-linecap="round"/>
<polyline points="296.4,228.0 298.2,227.4 300.6,226.6 303.4,225.6 306.5,224.5 309.8,223.4 313.2,222.3 316.7,221.3 320.0,220.5 323.2,219.8 326.5,219.2 329.8,218.7 333.2,218.2 336.6,217.8 340.3,217.3 344.0,217.0 348.0,216.6 352.2,216.3 356.8,216.0 361.5,215.7 366.3,215.5 371.2,215.3 375.9,215.1 380.6,214.9 385.0,214.8 389.4,214.7 393.9,214.6 398.5,214.6 402.9,214.6 407.0,214.6 410.7,214.6 413.8,214.6 416.2,214.6" fill="none" stroke="#1a1a1a" stroke-width="1.6" stroke-linejoin="round" stroke-linecap="round"/>
<polyline points="298.4,233.0 300.0,232.5 302.1,231.8 304.6,230.9 307.4,230.0 310.5,229.0 313.6,228.1 316.8,227.2 320.0,226.5 323.2,225.9 326.5,225.4 329.9,224.8 333.4,224.4 336.9,224.0 340.6,223.6 344.3,223.3 348.0,223.0 351.9,222.8 356.0,222.6 360.1,222.4 364.4,222.3 368.6,222.3 372.6,222.2 376.5,222.2 380.0,222.2 383.3,222.2 386.4,222.1 389.3,222.1 392.0,222.1 394.7,222.1 397.2,222.2 399.6,222.4 402.0,222.8 404.2,223.3 406.3,223.9 408.3,224.7 410.2,225.5 412.0,226.3 413.8,227.2 415.6,228.1 417.5,229.0 419.5,229.9 421.6,231.0 423.6,232.1 425.7,233.2 427.7,234.3 429.7,235.2 431.4,236.0 433.0,236.6 434.4,237.0 435.5,237.1 436.5,237.2 437.4,237.1 438.3,236.9 439.1,236.7 440.0,236.5 441.0,236.4 442.0,236.3 443.1,236.1 444.1,235.8 445.2,235.6 446.3,235.4 447.4,235.1 448.7,235.0 450.0,234.8 451.4,234.7 452.9,234.6 454.4,234.5 456.0,234.5 457.6,234.4 459.4,234.4 461.4,234.4 463.5,234.4 465.9,234.4 468.6,234.4 471.5,234.5 474.5,234.5 477.4,234.6 480.3,234.7 482.9,234.8 485.2,235.0 487.2,235.2 488.9,235.6 490.5,235.9 491.9,236.3 493.3,236.7 494.5,237.1 495.8,237.5 497.0,237.8 498.3,238.1 499.5,238.5 500.7,238.8 501.9,239.2 502.9,239.5 503.9,239.8 504.7,240.0 505.3,240.2" fill="none" stroke="#1a1a1a" stroke-width="1.6" stroke-linejoin="round" stroke-linecap="round"/>
<polyline points="300.3,237.8 301.7,237.5 303.6,237.2 305.9,236.8 308.4,236.3 311.1,235.8 314.0,235.4 317.0,235.0 320.0,234.6 323.0,234.3 326.2,234.0 329.4,233.7 332.8,233.5 336.4,233.3 340.1,233.1 343.9,233.0 348.0,232.9 352.4,232.9 357.1,232.8 362.1,232.8 367.2,232.9 372.4,233.0 377.4,233.2 382.2,233.4 386.6,233.8 390.8,234.3 394.8,234.9 398.7,235.6 402.4,236.4 406.0,237.2 409.4,238.0 412.6,238.8 415.6,239.6 418.3,240.4 420.8,241.1 423.0,241.9 425.1,242.7 427.0,243.5 429.0,244.2 430.9,244.9 433.0,245.4 435.2,245.8 437.4,246.1 439.6,246.3 441.7,246.5 443.9,246.7 446.0,246.8 448.0,247.0 450.0,247.3 451.8,247.6 453.6,248.0 455.2,248.3 456.8,248.7 458.4,249.1 460.0,249.5 461.7,250.0 463.5,250.4 465.4,250.9 467.4,251.3 469.4,251.8 471.5,252.4 473.6,252.9 475.8,253.4 477.9,254.0 480.0,254.5 482.2,255.1 484.6,255.7 487.1,256.4 489.5,257.1 491.8,257.7 493.9,258.3 495.7,258.7 497.0,259.1" fill="none" stroke="#1a1a1a" stroke-width="1.6" stroke-linejoin="round" stroke-linecap="round"/>
<polyline points="314.3,273.6 316.2,273.1 318.9,272.4 322.0,271.5 325.4,270.6 329.1,269.7 332.9,268.7 336.5,267.9 340.0,267.2 343.3,266.6 346.6,266.1 349.9,265.6 353.2,265.2 356.6,264.8 360.1,264.4 363.6,264.1 367.3,263.8 371.2,263.5 375.3,263.3 379.5,263.0 383.8,262.9 388.0,262.7 392.2,262.6 396.2,262.5 400.0,262.4 403.5,262.4 406.9,262.3 410.1,262.4 413.2,262.4 416.2,262.5 419.2,262.6 422.2,262.7 425.3,262.8 428.4,262.9 431.6,263.1 434.8,263.2 438.0,263.4 441.1,263.6 444.2,263.8 447.1,264.1 450.0,264.3 452.7,264.5 455.3,264.8 457.8,265.0 460.2,265.2 462.6,265.5 465.0,265.8 467.5,266.2 470.0,266.6 472.8,267.1 475.8,267.8 478.9,268.5 482.0,269.3 484.9,270.0 487.6,270.7 489.8,271.3 491.4,271.7" fill="none" stroke="#1a1a1a" stroke-width="1.6" stroke-linejoin="round" stroke-linecap="round"/>
<polyline points="324.8,300.6 327.1,300.0 330.2,299.2 333.9,298.3 337.9,297.3 342.3,296.2 346.6,295.2 351.0,294.3 355.0,293.6 358.9,293.0 362.8,292.6 366.7,292.1 370.6,291.8 374.6,291.5 378.5,291.3 382.6,291.1 386.6,290.9 390.7,290.8 394.8,290.7 399.0,290.7 403.2,290.7 407.5,290.7 411.7,290.9 415.9,291.0 420.0,291.2 424.2,291.4 428.4,291.7 432.6,292.1 436.7,292.4 440.9,292.9 444.9,293.3 448.8,293.8 452.6,294.4 456.4,295.1 460.2,295.8 464.1,296.7 467.8,297.6 471.2,298.5 474.3,299.3 476.9,299.9 478.8,300.4" fill="none" stroke="#1a1a1a" stroke-width="1.6" stroke-linejoin="round" stroke-linecap="round"/>
<polyline points="342.5,345.8 344.6,345.3 347.5,344.5 350.8,343.6 354.6,342.6 358.5,341.7 362.5,340.7 366.4,339.9 370.0,339.2 373.3,338.7 376.6,338.2 379.8,337.8 383.0,337.5 386.3,337.3 389.7,337.1 393.1,337.0 396.8,336.9 400.7,336.9 404.7,336.9 408.9,337.1 413.2,337.2 417.5,337.5 421.8,337.8 426.0,338.2 430.0,338.6 434.1,339.2 438.3,339.9 442.6,340.8 446.8,341.7 450.7,342.5 454.3,343.3 457.2,344.0 459.5,344.5" fill="none" stroke="#1a1a1a" stroke-width="1.6" stroke-linejoin="round" stroke-linecap="round"/>
<polyline points="368.0,411.0 369.2,410.7 370.9,410.3 372.8,409.7 375.0,409.2 377.3,408.6 379.6,408.0 381.9,407.6 384.0,407.2 386.0,406.9 388.0,406.7 390.0,406.5 391.9,406.3 393.9,406.2 395.9,406.2 397.9,406.1 399.9,406.1 401.9,406.1 403.9,406.2 406.0,406.3 408.0,406.4 410.1,406.6 412.1,406.8 414.1,407.0 416.0,407.2 418.0,407.5 420.1,407.8 422.3,408.2 424.4,408.7 426.3,409.1 428.1,409.5 429.6,409.8 430.7,410.0" fill="none" stroke="#1a1a1a" stroke-width="1.6" stroke-linejoin="round" stroke-linecap="round"/>
<polyline points="293.9,221.5 295.9,221.1 298.5,220.5 301.6,219.8 305.1,219.1 308.8,218.3 312.6,217.5 316.4,216.8 320.0,216.2 323.5,215.7 327.1,215.2 330.7,214.7 334.4,214.3 338.2,213.9 342.1,213.5 346.0,213.2 350.0,212.8 354.1,212.5 358.4,212.1 362.8,211.8 367.2,211.5 371.7,211.3 376.2,211.0 380.6,210.8 385.0,210.6 389.6,210.4 394.5,210.3 399.5,210.2 404.4,210.1 409.1,210.0 413.3,209.9 416.8,209.9 419.5,209.8" fill="none" stroke="#1a1a1a" stroke-width="1.5" stroke-linejoin="round" stroke-linecap="round"/>
<polyline points="505.3,240.2 578.0,212.0" fill="none" stroke="#1a1a1a" stroke-width="1.6" stroke-linejoin="round" stroke-linecap="round"/>
<polyline points="497.0,259.1 569.4,232.2" fill="none" stroke="#1a1a1a" stroke-width="1.6" stroke-linejoin="round" stroke-linecap="round"/>
<polyline points="491.4,271.7 563.6,245.7" fill="none" stroke="#1a1a1a" stroke-width="1.6" stroke-linejoin="round" stroke-linecap="round"/>
<polyline points="478.8,300.4 551.7,273.5" fill="none" stroke="#1a1a1a" stroke-width="1.6" stroke-linejoin="round" stroke-linecap="round"/>
<polyline points="459.5,344.5 533.0,317.4" fill="none" stroke="#1a1a1a" stroke-width="1.6" stroke-linejoin="round" stroke-linecap="round"/>
<polyline points="430.7,410.0 505.3,382.2" fill="none" stroke="#1a1a1a" stroke-width="1.6" stroke-linejoin="round" stroke-linecap="round"/>
<polyline points="419.5,209.8 428.0,203.5 436.8,196.4 445.0,203.0 453.5,209.6 461.0,214.0 468.0,217.9 474.0,220.0 479.6,220.9 486.8,219.5 492.0,220.4 500.0,223.6 508.7,226.6 511.0,227.2" fill="none" stroke="#1a1a1a" stroke-width="1.5" stroke-linejoin="round" stroke-linecap="round"/>
<polyline points="419.5,209.8 428.0,203.5 436.8,196.4 441.0,194.0 445.0,191.0 449.1,188.2 453.0,191.0 457.0,190.4 462.0,187.0 467.0,184.6 472.0,183.4 477.0,180.2 481.0,178.2" fill="none" stroke="#1a1a1a" stroke-width="1.2" stroke-linejoin="round" stroke-linecap="round"/>
<polyline points="481.0,178.2 486.8,177.3 491.0,174.6 495.0,173.4 499.9,171.4 503.5,173.6 506.0,174.8 510.0,174.3 514.0,176.6 518.0,177.2 522.0,176.2 527.4,177.3 532.0,180.2 537.0,180.9 541.0,180.7 548.0,184.6 553.0,187.4 559.0,189.6 565.0,191.0 571.0,191.3 576.0,192.4 580.0,195.0 584.0,198.0" fill="none" stroke="#1a1a1a" stroke-width="1.2" stroke-linejoin="round" stroke-linecap="round"/>
<polyline points="293.9,221.5 372.7,184.0 372.7,184.0 374.8,183.8 377.5,183.6 380.8,183.2 384.5,182.9 388.4,182.6 392.3,182.2 396.3,181.9 400.0,181.6 403.6,181.4 407.3,181.1 411.1,180.9 414.8,180.7 418.6,180.5 422.4,180.3 426.2,180.1 430.0,179.9 433.8,179.7 437.7,179.5 441.6,179.3 445.6,179.2 449.4,179.0 453.1,178.9 456.7,178.7 460.0,178.6 463.2,178.5 466.4,178.4 469.5,178.4 472.4,178.3 475.1,178.3 477.4,178.3 479.4,178.2 481.0,178.2" fill="none" stroke="#1a1a1a" stroke-width="1.8" stroke-linejoin="round" stroke-linecap="round"/>
<polyline points="293.9,221.5 397.3,486.0 511.0,227.2" fill="none" stroke="#1a1a1a" stroke-width="1.8" stroke-linejoin="round" stroke-linecap="round"/>
<polyline points="584.0,198.0 475.0,453.0 397.3,486.0" fill="none" stroke="#1a1a1a" stroke-width="1.8" stroke-linejoin="round" stroke-linecap="round"/>
<polyline points="511.0,227.2 584.0,198.0" fill="none" stroke="#1a1a1a" stroke-width="1.5" stroke-linejoin="round" stroke-linecap="round"/>
<path d="M248.5 437.6 L248.5 352.4 A87.2 85.2 0 1 0 315.8 491.8 Z" fill="url(#mantle)" stroke="#1a1a1a" stroke-width="1.5" stroke-linejoin="round"/>
<path d="M248.5 437.6 L248.5 391.4 A47.6 46.2 0 1 0 285.2 467.0 Z" fill="#bababa" stroke="#1a1a1a" stroke-width="1.5" stroke-linejoin="round"/>
<path d="M248.5 437.6 L248.5 418.3 A20.2 19.3 0 1 0 264.1 449.9 Z" fill="#e6e6e6" stroke="#1a1a1a" stroke-width="1.5" stroke-linejoin="round"/>
<polyline points="248.5,391.2 342.5,345.8" fill="none" stroke="#1a1a1a" stroke-width="1.2" stroke-linejoin="round" stroke-linecap="round"/>
<polyline points="248.5,418.2 368.0,411.0" fill="none" stroke="#1a1a1a" stroke-width="1.2" stroke-linejoin="round" stroke-linecap="round"/>
<polyline points="248.5,437.6 397.3,486.0" fill="none" stroke="#1a1a1a" stroke-width="1.2" stroke-linejoin="round" stroke-linecap="round"/>
<polyline points="248.3,352.2 291.7,228.2 296.4,228.2" fill="none" stroke="#333" stroke-width="1.05" stroke-linejoin="round" stroke-linecap="round"/>
<polyline points="248.3,352.6 253.4,352.6 294.0,234.4 299.0,234.4" fill="none" stroke="#333" stroke-width="1.05" stroke-linejoin="round" stroke-linecap="round"/>
<polyline points="259.8,223.4 291.7,230.4" fill="none" stroke="#333" stroke-width="1.05" stroke-linejoin="round" stroke-linecap="round"/>
<polyline points="236.5,344.0 246.0,350.2" fill="none" stroke="#333" stroke-width="1.05" stroke-linejoin="round" stroke-linecap="round"/>
<path d="M590.6 199.6 Q593.6 199.8 592.6 203 L589 213 Q588.2 215.6 590.6 215.8 Q588 216.4 587 219 L583.6 227.4 Q582.6 230 579.6 229.8" fill="none" stroke="#333" stroke-width="0.9"/>
<polyline points="582.0,211.6 584.2,212.3 582.8,216.4 561.1,267.0 561.4,266.8 559.7,270.4 540.5,315.4 539.2,316.2" fill="none" stroke="#2c2c2c" stroke-width="1.05" stroke-linejoin="round" stroke-linecap="round"/>
<polyline points="535.6,318.4 538.4,319.3 537.0,323.4 509.1,388.8 509.2,388.5 507.5,392.4 481.5,453.4 479.4,454.6" fill="none" stroke="#2c2c2c" stroke-width="1.05" stroke-linejoin="round" stroke-linecap="round"/>
<text class="lab" x="195.2" y="220.6" textLength="52.9" lengthAdjust="spacingAndGlyphs">Erdkruste</text>
<text class="lab" x="174.2" y="339.9" textLength="54.1" lengthAdjust="spacingAndGlyphs">Erdkruste</text>
<text class="lab" x="596.6" y="229.0" textLength="65.5" lengthAdjust="spacingAndGlyphs">Lithosphäre</text>
<text class="lab" x="574.3" y="278.1" textLength="57.5" lengthAdjust="spacingAndGlyphs">Erdmantel</text>
<text class="lab" x="521.3" y="398.3" textLength="43.9" lengthAdjust="spacingAndGlyphs">Erdkern</text>
<text class="lab" x="318" y="255.7" textLength="79.2" lengthAdjust="spacingAndGlyphs" style="font-size:13.2px;fill:#2c1206">Asthenosphäre</text>
<text class="km" x="372.7" y="348.3" textLength="40.6" lengthAdjust="spacingAndGlyphs">2900 km</text>
<text class="km" x="373.2" y="421.5" textLength="40.2" lengthAdjust="spacingAndGlyphs">5100 km</text>
<text class="km" x="373.2" y="498.3" textLength="40.2" lengthAdjust="spacingAndGlyphs">6378 km</text>
<text class="lab" style="font-size:13.2px;fill:#1e1e1e" transform="translate(457.6,368.6) rotate(-19.5)" textLength="42" lengthAdjust="spacingAndGlyphs">Äußerer</text>
<text class="lab" style="font-size:13.2px;fill:#1e1e1e" transform="translate(462.4,383.0) rotate(-19.5)" textLength="24.6" lengthAdjust="spacingAndGlyphs">Kern</text>
<text class="lab" style="font-size:13.2px;fill:#1e1e1e" transform="translate(431.0,442.0) rotate(-20)" textLength="39" lengthAdjust="spacingAndGlyphs">Innerer</text>
<text class="lab" style="font-size:13.2px;fill:#1e1e1e" transform="translate(435.8,455.6) rotate(-20)" textLength="24.6" lengthAdjust="spacingAndGlyphs">Kern</text>
</g>
</svg>
</body></html>
